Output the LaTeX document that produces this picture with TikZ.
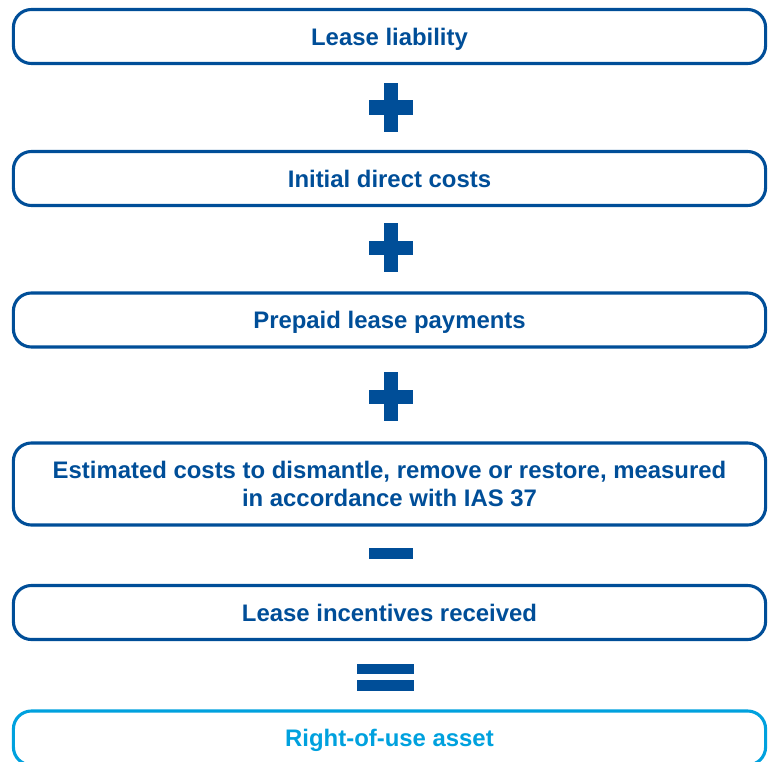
\documentclass[tikz,border=0pt]{standalone}
\usepackage{fontspec}
\setmainfont{Liberation Sans}
\usetikzlibrary{positioning}
\definecolor{leaseblue}{RGB}{0,78,152}
\definecolor{roublue}{RGB}{0,161,222}

\begin{document}
\begin{tikzpicture}[x=0.025cm, y=-0.025cm,
    item/.style={draw=leaseblue, line width=2.2pt, rounded corners=0.45cm,
      minimum width=18.8cm, minimum height=1.35cm, inner sep=0pt, text depth=0pt,
      text=leaseblue, font=\fontsize{17}{19.9}\selectfont\bfseries, align=center},
    total/.style={item, draw=roublue, text=roublue},
    opsign/.style={fill=leaseblue}]
  \useasboundingbox (0,0) rectangle (769,762);
  \clip (0,0) rectangle (769,762);

  \node[item] (liability) at (389.5,36.5) {Lease liability};
  \node[item] (direct) at (389.5,178.5) {Initial direct costs};
  \node[item] (prepaid) at (389.5,320) {Prepaid lease payments};
  \node[item, minimum height=2.05cm] (restore) at (389.5,484)
    {Estimated costs to dismantle, remove or restore, measured\\in accordance with IAS 37};
  \node[item] (incentives) at (389.5,612.5) {Lease incentives received};
  \node[total] (rou) at (389.5,738) {Right-of-use asset};

  % plus signs
  \foreach \y in {107.5,247.5,396.5} {
    \fill[opsign] (369,\y-7) rectangle (413,\y+7);
    \fill[opsign] (384,\y-24.5) rectangle (398,\y+24.5);
  }
  % minus
  \fill[opsign] (369,548) rectangle (413,559);
  % equals
  \fill[opsign] (357,664) rectangle (414,674);
  \fill[opsign] (357,680) rectangle (414,691);
\end{tikzpicture}
\end{document}
